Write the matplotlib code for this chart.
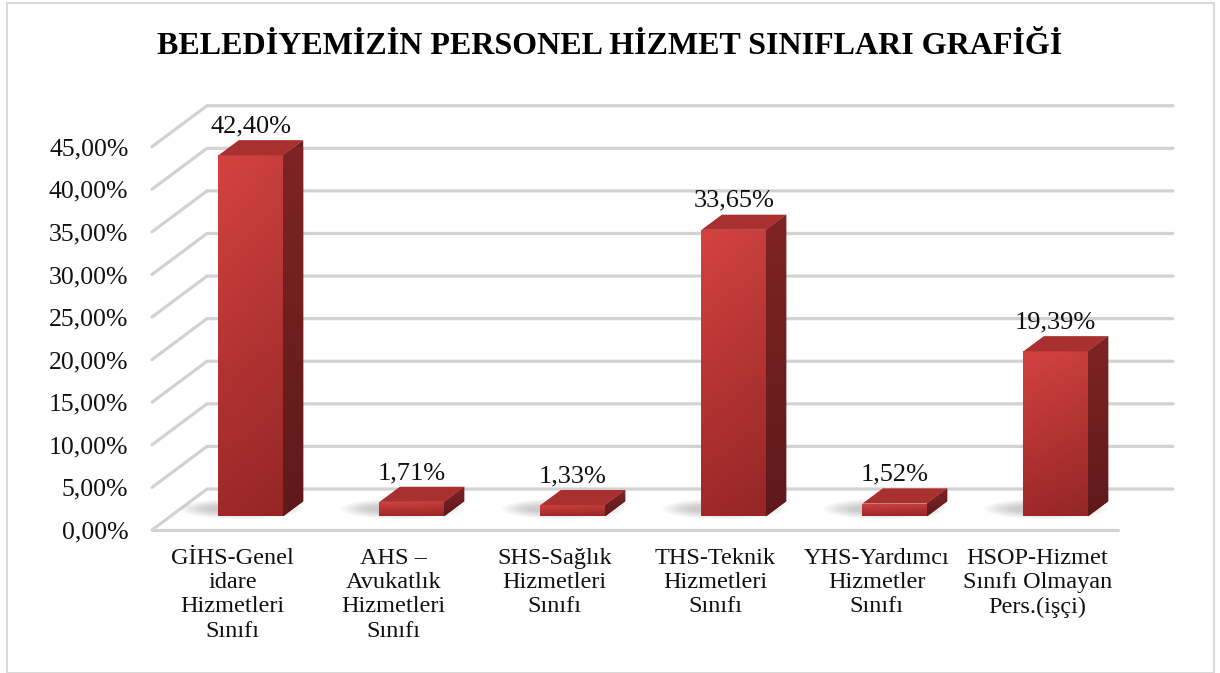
import numpy as np
import matplotlib.pyplot as plt
from matplotlib.patches import Polygon, Ellipse, Rectangle
from matplotlib.ticker import FuncFormatter

plt.rcParams['font.family'] = ['Liberation Serif', 'DejaVu Serif']

# --- data ---
title = "BELEDİYEMİZİN PERSONEL HİZMET SINIFLARI GRAFİĞİ"
categories = [
    "GİHS-Genel\nidare\nHizmetleri\nSınıfı",
    "AHS –\nAvukatlık\nHizmetleri\nSınıfı",
    "SHS-Sağlık\nHizmetleri\nSınıfı",
    "THS-Teknik\nHizmetleri\nSınıfı",
    "YHS-Yardımcı\nHizmetler\nSınıfı",
    "HSOP-Hizmet\nSınıfı Olmayan\nPers.(işçi)",
]
shares = [42.40, 1.71, 1.33, 33.65, 1.52, 19.39]
y_ticks = [0, 5, 10, 15, 20, 25, 30, 35, 40, 45]


def pct(v):
    return f"{v:.2f}".replace('.', ',') + '%'


W, H = 1220, 673
fig = plt.figure(figsize=(W / 100, H / 100), dpi=100)
fig.patch.set_facecolor('white')

# front plane of the 3D box: x 152..1118 px, 0% at y=530 px, 45% at y=146.7 px
ax = fig.add_axes([152 / W, (H - 530) / H, (1118 - 152) / W, (530 - 146.7) / H])
ax.set_xlim(-0.5, 5.5)
ax.set_ylim(0, 45)
for s in ax.spines.values():
    s.set_visible(False)
ax.set_facecolor('none')

# depth vector (back wall offset) in data units
DX, DY = 55 / 161, 41 / 8.52
f_front, f_depth = 0.33, 0.37
bar_w = 0.4
grid_c = '#d2d2d2'

# back wall gridlines + left side diagonals
x_left, x_right = -0.5, 5.5
for v in y_ticks:
    ax.plot([x_left, x_left + DX, x_right + DX], [v, v + DY, v + DY],
            color=grid_c, lw=2.3, solid_capstyle='round', clip_on=False, zorder=1)
# front floor edge
ax.plot([x_left, x_right], [0, 0], color=grid_c, lw=2.3,
        solid_capstyle='round', clip_on=False, zorder=1)

xs = np.arange(len(shares)) + f_front * DX
y0 = f_front * DY

# soft floor shadows, cast back-left of each bar
for x, v in zip(xs, shares):
    cx = x - 0.06
    cy = y0 + f_depth * DY * 0.5
    for k in range(9):
        e = Ellipse((cx, cy), bar_w * (1.9 - 0.1 * k), 2.4 - 0.2 * k,
                    facecolor='#505050', edgecolor='none', alpha=0.035,
                    clip_on=False, zorder=2)
        ax.add_patch(e)

bars = ax.bar(xs, shares, width=bar_w, bottom=y0, color='#b83232',
              edgecolor='none', zorder=4, clip_on=False)

# gradient for the front faces
ny, nx = 64, 16
t = np.linspace(0, 1, ny)[:, None]
u = np.linspace(0, 1, nx)[None, :]
top_c = np.array([0.83, 0.26, 0.25])
bot_c = np.array([0.62, 0.16, 0.16])
front_img = (top_c * (1 - t[..., None]) + bot_c * t[..., None]) * (1 - 0.06 * u[..., None])

side_top = np.array([0.50, 0.14, 0.14])
side_bot = np.array([0.37, 0.10, 0.10])
side_img = side_top * (1 - t[..., None]) + side_bot * t[..., None]

for rect, x, v in zip(bars, xs, shares):
    xl, xr = x - bar_w / 2, x + bar_w / 2
    top = y0 + v
    im = ax.imshow(front_img, extent=[xl, xr, y0, top], aspect='auto',
                   origin='upper', zorder=5, interpolation='bilinear')
    im.set_clip_path(rect)
    ddx, ddy = f_depth * DX, f_depth * DY
    side = Polygon([(xr, y0), (xr, top), (xr + ddx, top + ddy), (xr + ddx, y0 + ddy)],
                   closed=True, facecolor='#6e1d1d', edgecolor='none',
                   clip_on=False, zorder=4)
    ax.add_patch(side)
    im2 = ax.imshow(side_img, extent=[xr, xr + ddx, y0, top + ddy], aspect='auto',
                    origin='upper', zorder=5, interpolation='bilinear')
    im2.set_clip_path(side)
    topf = Polygon([(xl, top), (xr, top), (xr + ddx, top + ddy), (xl + ddx, top + ddy)],
                   closed=True, facecolor='#a83130', edgecolor='none',
                   clip_on=False, zorder=6)
    ax.add_patch(topf)
    ax.annotate(pct(v), (x, top + ddy), xytext=(0, 2), textcoords='offset points',
                ha='center', va='bottom', fontsize=19, color='#111111',
                annotation_clip=False, zorder=7)

ax.set_xlim(-0.5, 5.5)
ax.set_ylim(0, 45)

ax.set_yticks(y_ticks)
ax.yaxis.set_major_formatter(FuncFormatter(lambda v, _: pct(v)))
ax.set_xticks(range(len(categories)))
ax.set_xticklabels(categories, linespacing=1.2)
ax.tick_params(axis='y', length=0, pad=17, labelsize=18.5, labelcolor='#111111')
ax.tick_params(axis='x', length=0, pad=13, labelsize=17.5, labelcolor='#111111')

fig.text(610 / W, 1 - 46 / H, title, ha='center', va='center',
         fontsize=23, fontweight='bold', color='black')

fig.patches.append(Rectangle((7 / W, 0.0), (1214 - 7) / W, 1 - 3 / H,
                             transform=fig.transFigure, fill=False,
                             edgecolor='#d9d9d9', lw=1.5))

fig.savefig('out.png', dpi=100)
